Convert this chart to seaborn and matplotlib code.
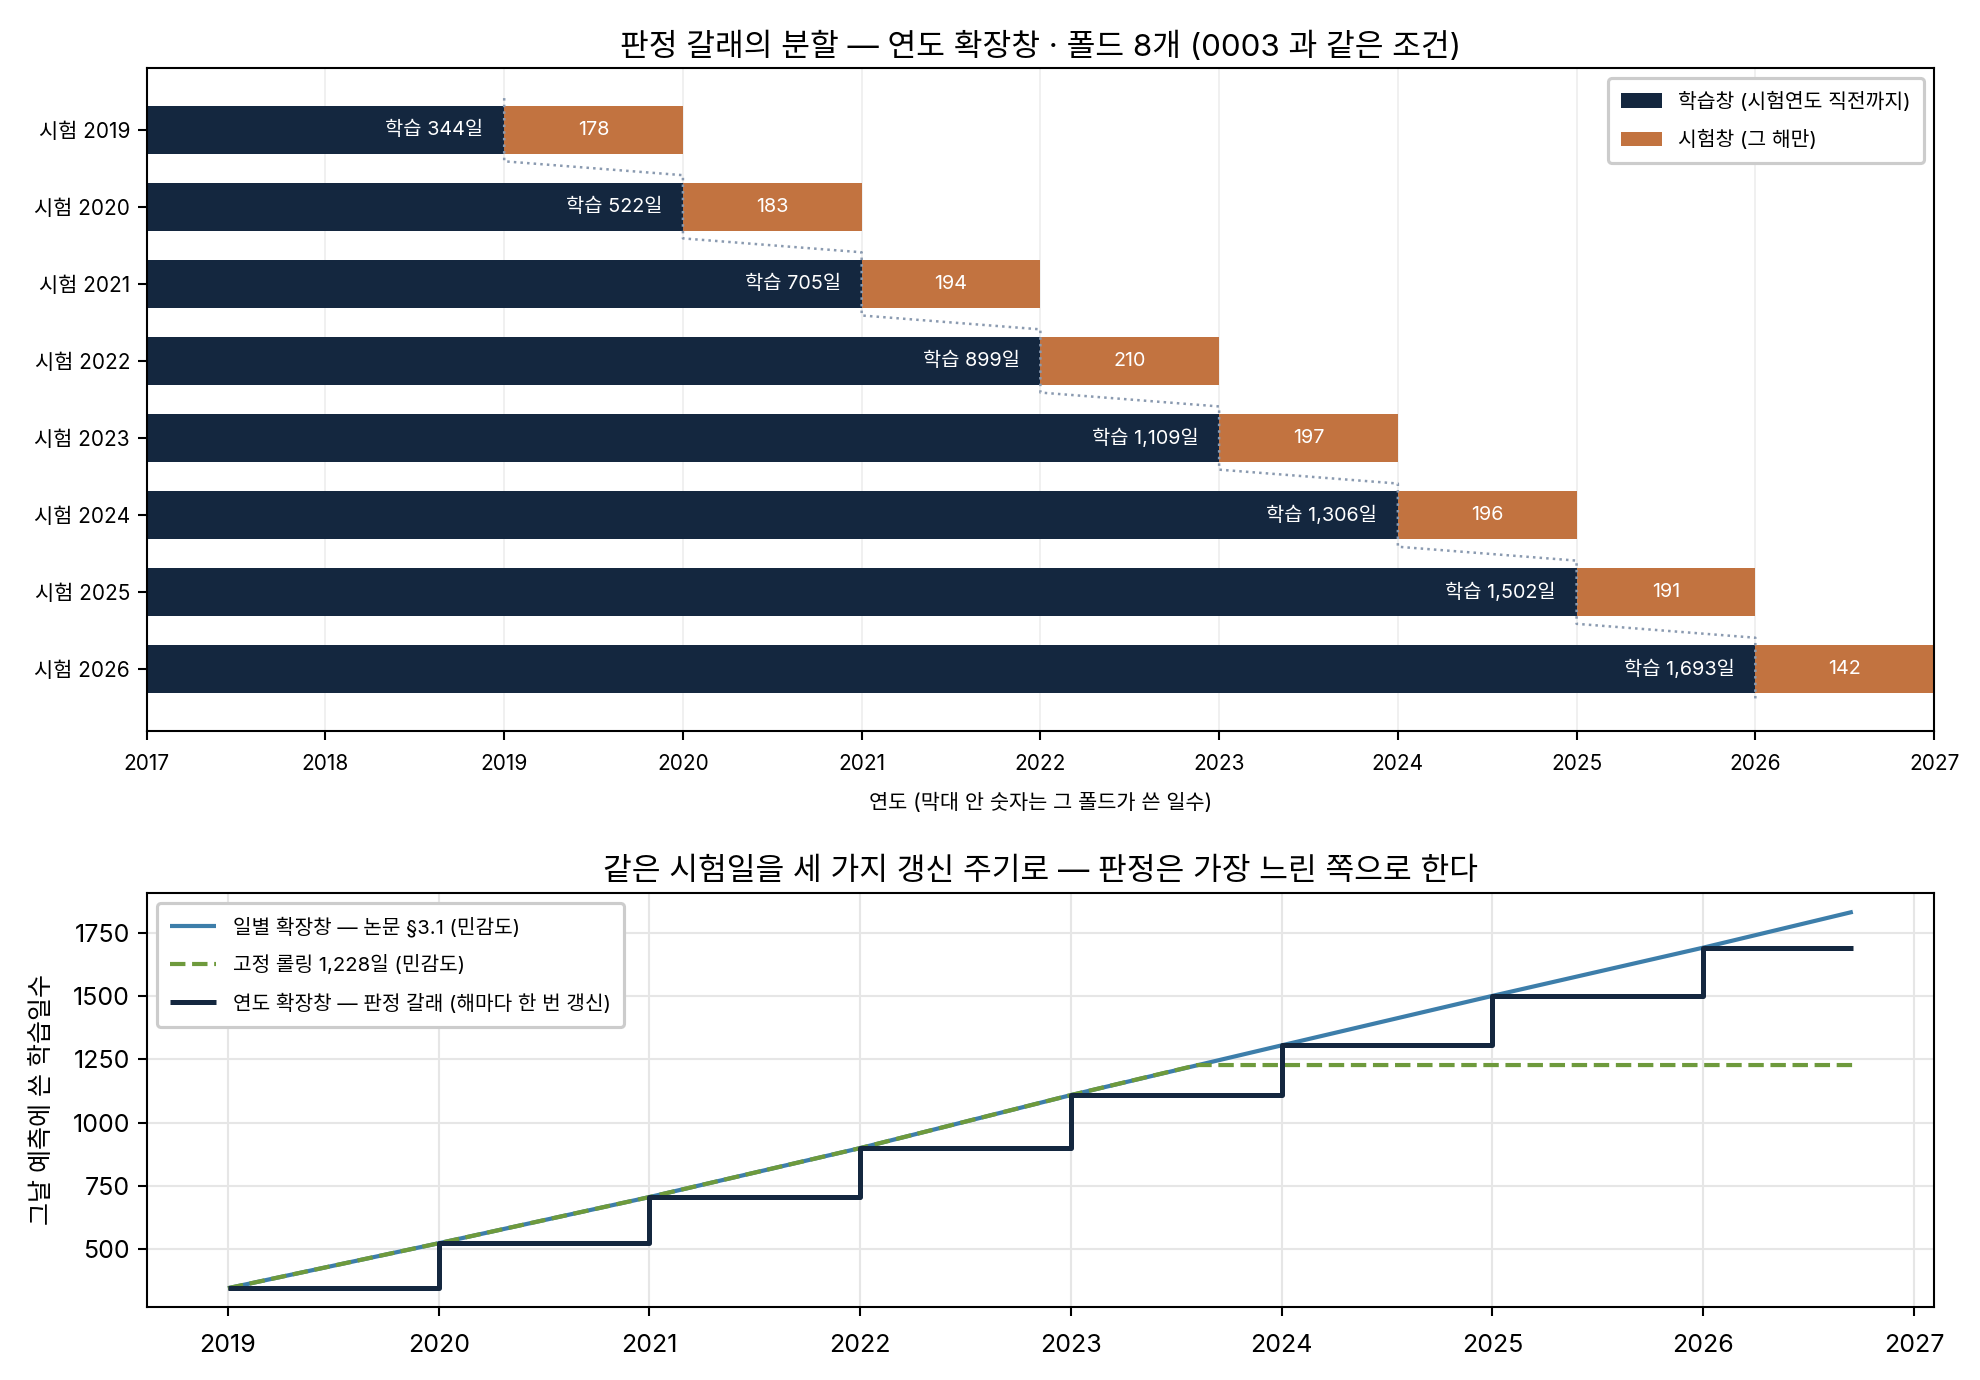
import numpy as np
import pandas as pd
import matplotlib
matplotlib.use("Agg")
import matplotlib.pyplot as plt
import seaborn as sns
from matplotlib.patches import Patch

# ---------------- data ----------------
fold_years = [2019, 2020, 2021, 2022, 2023, 2024, 2025, 2026]
train_days = [344, 522, 705, 899, 1109, 1306, 1502, 1693]
test_days = [178, 183, 194, 210, 197, 196, 191, 142]
fold_labels = [f"시험 {y}" for y in fold_years]
test_end_years = [2020, 2021, 2022, 2023, 2024, 2025, 2026, 2027]
top_xticks = [2017, 2018, 2019, 2020, 2021, 2022, 2023, 2024, 2025, 2026, 2027]

line_x = [2019, 2020, 2021, 2022, 2023, 2024, 2025, 2026, 2026.71]
daily_days = [344, 522, 705, 899, 1109, 1306, 1502, 1693, 1835]
rolling_x = [2019, 2020, 2021, 2022, 2023, 2023.6, 2026.71]
rolling_days = [344, 522, 705, 899, 1109, 1228, 1228]
annual_days = [344, 522, 705, 899, 1109, 1306, 1502, 1693, 1693]
bottom_xticks = [2019, 2020, 2021, 2022, 2023, 2024, 2025, 2026, 2027]
bottom_yticks = [500, 750, 1000, 1250, 1500, 1750]

NAVY = "#14273f"
ORANGE = "#c27340"
BLUE = "#3d7eaa"
GREEN = "#6e9a3c"
DOT = "#8a9ab0"

sns.set_theme(style="ticks")
plt.rcParams["font.family"] = ["Inter", "Noto Sans CJK KR", "DejaVu Sans"]
plt.rcParams.update({
    "axes.unicode_minus": False,
    "text.color": "black",
    "axes.labelcolor": "black",
    "xtick.color": "black",
    "ytick.color": "black",
    "axes.edgecolor": "black",
    "axes.linewidth": 1.0,
    "lines.solid_capstyle": "butt",
})

fig = plt.figure(figsize=(13.2, 9.2), dpi=150)
ax1 = fig.add_axes([0.0741, 0.4703, 0.9027, 0.4804])
ax2 = fig.add_axes([0.0741, 0.0529, 0.9027, 0.3000])

# ---------------- top: fold split ----------------
df = pd.DataFrame({"fold": fold_labels, "train_end": fold_years,
                   "test_end": test_end_years})
sns.barplot(data=df, x="test_end", y="fold", color=ORANGE, saturation=1,
            width=0.62, orient="h", errorbar=None, linewidth=0,
            edgecolor="none", ax=ax1)
sns.barplot(data=df, x="train_end", y="fold", color=NAVY, saturation=1,
            width=0.62, orient="h", errorbar=None, linewidth=0,
            edgecolor="none", ax=ax1)

xs, ys = [], []
for i, yr in enumerate(fold_years):
    xs += [yr, yr]
    ys += [i - 0.41, i + 0.41]
ax1.plot(xs, ys, ls=":", color=DOT, lw=1.2, zorder=5)

for i, (yr, n, t) in enumerate(zip(fold_years, train_days, test_days)):
    ax1.annotate(f"학습 {n:,}일", xy=(yr, i), xytext=(-10, 0),
                 textcoords="offset points", ha="right", va="center",
                 color="white", fontsize=9.5, zorder=6)
    ax1.text(yr + 0.5, i, f"{t}", ha="center", va="center",
             color="white", fontsize=9.5, zorder=6)

ax1.set_xlim(2017, 2027)
ax1.set_ylim(7.8, -0.8)
ax1.set_xticks(top_xticks)
ax1.set_xticklabels([str(v) for v in top_xticks], fontsize=10)
ax1.tick_params(axis="y", labelsize=10, length=4.5, width=1.0)
ax1.tick_params(axis="x", length=4.5, width=1.0, pad=6.5)
ax1.grid(axis="x", color="#eeeeee", lw=0.8)
ax1.set_axisbelow(True)
ax1.set_ylabel("")
ax1.set_xlabel("연도 (막대 안 숫자는 그 폴드가 쓴 일수)", fontsize=10,
               labelpad=9)
ax1.set_title("판정 갈래의 분할 — 연도 확장창 · 폴드 8개 (0003 과 같은 조건)",
              fontsize=15)
for s in ax1.spines.values():
    s.set_visible(True)
    s.set_color("black")
handles = [Patch(facecolor=NAVY, edgecolor="none"),
           Patch(facecolor=ORANGE, edgecolor="none")]
leg1 = ax1.legend(handles, ["학습창 (시험연도 직전까지)", "시험창 (그 해만)"],
                  loc="upper right", fontsize=9.8, frameon=True,
                  edgecolor="#cccccc", framealpha=1, labelspacing=0.9,
                  borderpad=0.65)
leg1.get_frame().set_linewidth(1.5)

# ---------------- bottom: refresh cycles ----------------
sns.lineplot(x=line_x, y=daily_days, color=BLUE, lw=2.0,
             label="일별 확장창 — 논문 §3.1 (민감도)", ax=ax2)
sns.lineplot(x=rolling_x, y=rolling_days, color=GREEN, lw=2.0, ls="--",
             label="고정 롤링 1,228일 (민감도)", ax=ax2)
sns.lineplot(x=line_x, y=annual_days, color=NAVY, lw=2.4,
             drawstyle="steps-post",
             label="연도 확장창 — 판정 갈래 (해마다 한 번 갱신)", ax=ax2)

ax2.set_xticks(bottom_xticks)
ax2.set_xticklabels([str(v) for v in bottom_xticks], fontsize=12)
ax2.set_yticks(bottom_yticks)
ax2.set_yticklabels([str(v) for v in bottom_yticks], fontsize=12)
ax2.tick_params(length=4.5, width=1.0)
ax2.tick_params(axis="x", pad=8.5)
ax2.grid(True, color="#e6e6e6", lw=1.0)
ax2.set_axisbelow(True)
ax2.set_ylabel("그날 예측에 쓴 학습일수", fontsize=12, labelpad=9)
ax2.set_xlabel("")
ax2.set_title("같은 시험일을 세 가지 갱신 주기로 — 판정은 가장 느린 쪽으로 한다",
              fontsize=15)
for s in ax2.spines.values():
    s.set_visible(True)
    s.set_color("black")
leg2 = ax2.legend(loc="upper left", fontsize=9.7, frameon=True,
                  edgecolor="#cccccc", framealpha=1, handlelength=2.3,
                  labelspacing=0.9, borderpad=0.65)
leg2.get_frame().set_linewidth(1.5)

fig.savefig("out.png", dpi=150)
